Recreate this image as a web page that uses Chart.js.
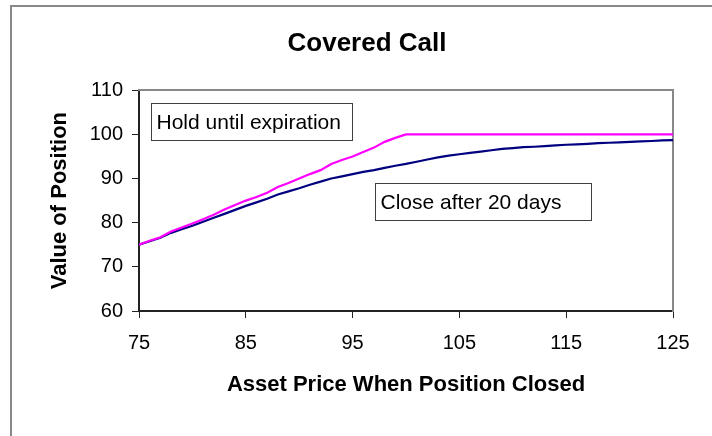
<!DOCTYPE html>
<html>
<head>
<meta charset="utf-8">
<script src="https://cdn.jsdelivr.net/npm/chart.js@4"></script>
<style>
  body { margin: 0; background: #fff; }
  #wrap { position: relative; width: 712px; height: 436px; }
  #frame { position: absolute; left: 10px; top: 5px; right: -4px; bottom: -4px;
           border-left: 2px solid #888; border-top: 2px solid #888; pointer-events: none; }
</style>
</head>
<body>
<div id="wrap">
  <canvas id="chart" width="712" height="436"></canvas>
  <div id="frame"></div>
</div>
<script>
// Asset price at close
const prices = [75, 76, 77, 78, 79, 80, 81, 82, 83, 84, 85, 86, 87, 88, 89, 90, 91, 92, 93, 94,
  95, 96, 97, 98, 99, 100, 101, 102, 103, 104, 105, 106, 107, 108, 109, 110, 111, 112, 113, 114,
  115, 116, 117, 118, 119, 120, 121, 122, 123, 124, 125];

// Hold until expiration
const holdValues = [75.0, 75.9, 76.7, 78.0, 78.9, 79.8, 80.8, 81.8, 83.0, 84.0, 85.0, 85.8, 86.8, 88.1, 89.0, 90.0, 91.0, 91.9, 93.3, 94.2,
  95.0, 96.0, 97.0, 98.3, 99.2, 100, 100, 100, 100, 100, 100, 100, 100, 100, 100, 100, 100, 100, 100, 100,
  100, 100, 100, 100, 100, 100, 100, 100, 100, 100, 100];

// Close after 20 days
const closeValues = [75.0, 75.8, 76.6, 77.7, 78.5, 79.3, 80.2, 81.1, 82.0, 82.9, 83.8, 84.6, 85.4, 86.4, 87.1, 87.8, 88.6, 89.3, 90.0, 90.5,
  91.0, 91.5, 91.9, 92.4, 92.9, 93.3, 93.8, 94.3, 94.8, 95.2, 95.5, 95.8, 96.1, 96.4, 96.7, 96.9, 97.1, 97.2, 97.35, 97.5,
  97.65, 97.75, 97.85, 98.0, 98.1, 98.2, 98.3, 98.4, 98.5, 98.65, 98.7];

const xTicks = [75, 85, 95, 105, 115, 125];
const yTicks = [60, 70, 80, 90, 100, 110];

// text boxes, anchored at their top-left corner in data units
const noteTexts = ['Hold until expiration', 'Close after 20 days'];
const noteX = [76.1, 97.1];
const noteY = [107.05, 88.9];

const fontFamily = "'Liberation Sans', Arial, sans-serif";

const notesPlugin = {
  id: 'notes',
  afterDraw(chart) {
    const ctx = chart.ctx;
    const xs = chart.scales.x, ys = chart.scales.y;
    const boxW = [201, 216];
    ctx.save();
    ctx.font = '21px ' + fontFamily;
    ctx.textBaseline = 'middle';
    noteTexts.forEach((text, i) => {
      const left = Math.round(xs.getPixelForValue(noteX[i])) + 0.5;
      const top = Math.round(ys.getPixelForValue(noteY[i])) + 0.5;
      const h = 37;
      ctx.fillStyle = '#fff';
      ctx.fillRect(left, top, boxW[i], h);
      ctx.strokeStyle = '#404040';
      ctx.lineWidth = 1;
      ctx.strokeRect(left, top, boxW[i], h);
      ctx.fillStyle = '#000';
      ctx.fillText(text, left + 5, top + h / 2 + 1);
    });
    ctx.restore();
  }
};

const ctx = document.getElementById('chart');

new Chart(ctx, {
  type: 'line',
  data: {
    datasets: [
      {
        label: 'Hold until expiration',
        data: prices.map((p, i) => ({ x: p, y: holdValues[i] })),
        borderColor: '#ff00ff',
        borderWidth: 2.2,
        pointRadius: 0,
        tension: 0
      },
      {
        label: 'Close after 20 days',
        data: prices.map((p, i) => ({ x: p, y: closeValues[i] })),
        borderColor: '#000080',
        borderWidth: 2.2,
        pointRadius: 0,
        tension: 0
      }
    ]
  },
  options: {
    responsive: false,
    animation: false,
    layout: { padding: { left: 22, right: 0, top: 0, bottom: 0 } },
    plugins: {
      legend: { display: false },
      tooltip: { enabled: false },
      title: {
        display: true,
        text: 'Covered Call',
        color: '#000',
        font: { family: fontFamily, size: 26, weight: 'bold' },
        padding: { top: 28, bottom: 31 }
      }
    },
    scales: {
      x: {
        type: 'linear',
        position: 'bottom',
        min: 75,
        max: 125,
        afterBuildTicks: s => { s.ticks = xTicks.map(v => ({ value: v })); },
        afterFit: s => { s.height = 125; },
        ticks: {
          color: '#000',
          font: { family: fontFamily, size: 20 },
          padding: 13,
          maxRotation: 0
        },
        grid: { drawOnChartArea: false, tickLength: 7, color: '#222', lineWidth: 1 },
        border: { color: '#222', width: 2 },
        title: {
          display: true,
          text: 'Asset Price When Position Closed',
          color: '#000',
          font: { family: fontFamily, size: 22, weight: 'bold' },
          padding: { top: 0, bottom: 38 }
        }
      },
      y: {
        position: 'left',
        min: 60,
        max: 110,
        afterBuildTicks: s => { s.ticks = yTicks.map(v => ({ value: v })); },
        afterFit: s => { s.width = 117; },
        ticks: {
          color: '#000',
          font: { family: fontFamily, size: 20 },
          padding: 9
        },
        grid: { drawOnChartArea: false, tickLength: 7, color: '#222', lineWidth: 1 },
        border: { color: '#222', width: 2 },
        title: {
          display: true,
          text: 'Value of Position',
          color: '#000',
          font: { family: fontFamily, size: 22, weight: 'bold' },
          padding: { top: 25, bottom: 0 }
        }
      },
      top: {
        type: 'linear',
        position: 'top',
        afterFit: s => { s.height = 0; },
        ticks: { display: false },
        grid: { display: false },
        border: { color: '#888', width: 2 }
      },
      right: {
        type: 'linear',
        position: 'right',
        afterFit: s => { s.width = 39; },
        ticks: { display: false },
        grid: { display: false },
        border: { color: '#888', width: 2 }
      }
    }
  },
  plugins: [notesPlugin]
});
</script>
</body>
</html>
